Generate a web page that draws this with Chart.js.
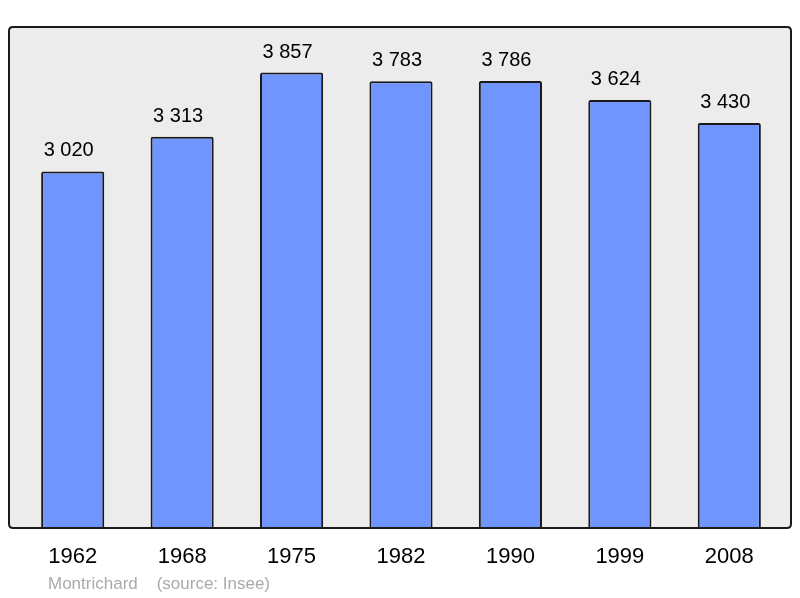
<!DOCTYPE html>
<html>
<head>
<meta charset="utf-8">
<script src="https://cdn.jsdelivr.net/npm/chart.js@4/dist/chart.umd.min.js"></script>
<style>
html,body{margin:0;padding:0;background:#fff;}
#wrap{width:800px;height:598px;position:relative;}
</style>
</head>
<body>
<div id="wrap"><canvas id="c" width="800" height="598"></canvas></div>
<script>
const years = ["1962", "1968", "1975", "1982", "1990", "1999", "2008"];
const population = [3020, 3313, 3857, 3783, 3786, 3624, 3430];
const valueLabels = ["3 020", "3 313", "3 857", "3 783", "3 786", "3 624", "3 430"];
const footerText = "Montrichard    (source: Insee)";

function framePath(ctx, a) {
  const l = a.left - 9, r = a.right + 7, t = a.top, b = a.bottom, rad = 4;
  ctx.beginPath();
  ctx.moveTo(l + rad, t);
  ctx.lineTo(r - rad, t);
  ctx.quadraticCurveTo(r, t, r, t + rad);
  ctx.lineTo(r, b - rad);
  ctx.quadraticCurveTo(r, b, r - rad, b);
  ctx.lineTo(l + rad, b);
  ctx.quadraticCurveTo(l, b, l, b - rad);
  ctx.lineTo(l, t + rad);
  ctx.quadraticCurveTo(l, t, l + rad, t);
  ctx.closePath();
}

const framePlugin = {
  id: 'frame',
  beforeDraw(chart) {
    const {ctx, chartArea: a} = chart;
    ctx.save();
    framePath(ctx, a);
    ctx.fillStyle = '#ececec';
    ctx.fill();
    ctx.restore();
  },
  afterDatasetsDraw(chart) {
    const {ctx, chartArea: a} = chart;
    ctx.save();
    framePath(ctx, a);
    ctx.strokeStyle = '#1a1a1a';
    ctx.lineWidth = 2;
    ctx.stroke();
    // value labels
    const meta = chart.getDatasetMeta(0);
    ctx.fillStyle = '#000';
    ctx.font = '20px "Liberation Sans", Arial, sans-serif';
    ctx.textAlign = 'center';
    ctx.textBaseline = 'alphabetic';
    meta.data.forEach((bar, i) => {
      ctx.fillText(valueLabels[i], bar.x - 4, bar.y - 15);
    });
    // footer
    ctx.fillStyle = '#aaaaaa';
    ctx.font = '17px "Liberation Sans", Arial, sans-serif';
    ctx.textAlign = 'left';
    ctx.textBaseline = 'alphabetic';
    ctx.fillText(footerText, a.left + 30, 589);
    ctx.restore();
  }
};

new Chart(document.getElementById('c'), {
  type: 'bar',
  data: {
    labels: years,
    datasets: [{
      data: population,
      backgroundColor: '#7095ff',
      borderColor: '#1a1a1a',
      borderWidth: 2,
      borderRadius: 2,
      barPercentage: 0.577,
      categoryPercentage: 1.0
    }]
  },
  options: {
    responsive: false,
    animation: false,
    devicePixelRatio: 1,
    layout: {padding: {left: 18, right: 16, top: 27, bottom: 0}},
    plugins: {legend: {display: false}, tooltip: {enabled: false}, title: {display: false}},
    scales: {
      x: {
        grid: {display: false, drawTicks: false},
        border: {display: false},
        ticks: {
          color: '#000',
          font: {size: 22, family: '"Liberation Sans", Arial, sans-serif'},
          padding: 16,
          maxRotation: 0
        },
        afterFit(scale) { scale.height = 70; }
      },
      y: {
        display: false,
        min: 0,
        max: Math.max(...population) * 1.1
      }
    }
  },
  plugins: [framePlugin]
});
</script>
</body>
</html>
